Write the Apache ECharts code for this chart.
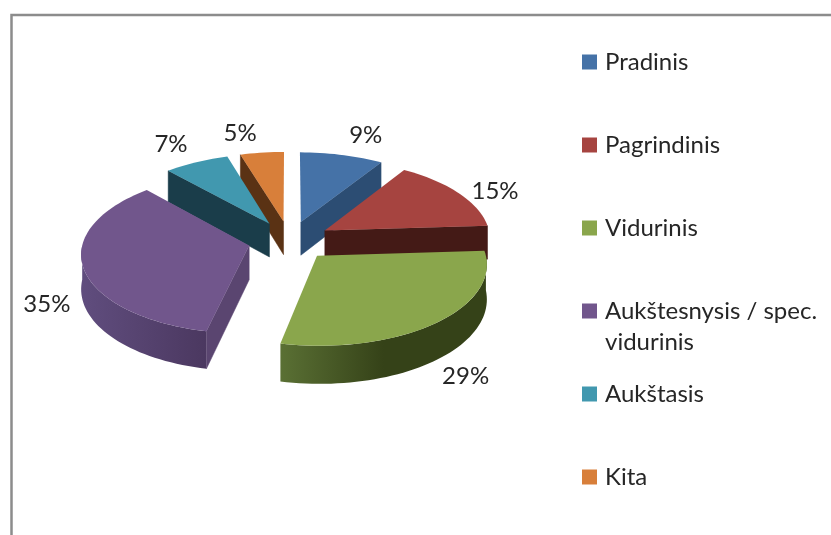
<!DOCTYPE html>
<html><head><meta charset="utf-8">
<style>html,body{margin:0;padding:0;background:#fff}#c{width:831px;height:535px}</style>
<script src="https://cdn.jsdelivr.net/npm/echarts@6/dist/echarts.min.js"></script>
</head><body><div id="c"></div>
<script>
const categories = ['Pradinis','Pagrindinis','Vidurinis','Aukštesnysis / spec. vidurinis','Aukštasis','Kita'];
const values = [9,15,29.4,34.9,7,4.7];
const topColors = ['#4572a7','#a64440','#8aa64c','#71568c','#4198af','#d87f3a'];
const cutColors = ['#2c4d73','#441a16','#37431a','#5a4570','#1a3d4a','#5a3214'];
const wallLeft  = ['#2c4d73','#441a16','#5a7034','#604d7e','#1a3d4a','#5a3214'];
const wallRight = ['#2c4d73','#441a16','#354218','#4b3860','#1a3d4a','#5a3214'];
const wallMid   = [1,1,0.5,1,1,1];

// 3D projection constants of the exploded pie
const CX=289.5, CY=240.5, R=166, A=79, P=0.09, EXPLODE=0.25, DEPTH=34;
const LABEL_FONT='24px Lato', INK='#262626';
const labelRadial=[1.16,1.17,1.2,1.2,1.2,1.2];
const labelNudge=[[18,-10],[15,4],[2,39],[-2,33],[-12,-7],[-18,-7]];
const total = values.reduce((a,b)=>a+b,0);
const rad = d=>d*Math.PI/180;

function project(X,Y,drop){
  const s=1/(1-P*Y);
  return [CX+X*R*s, CY+A*Y*s+(drop?DEPTH*s:0)];
}
function makeRender(idx){
  return function(params,api){
    const v=api.value(0);
    let before=0; for(let i=0;i<idx;i++) before+=values[i];
    const t0=before/total*360, t1=(before+v)/total*360, tm=(t0+t1)/2;
    const ex=EXPLODE*Math.sin(rad(tm)), ey=-EXPLODE*Math.cos(rad(tm));
    const rim=(t,drop)=>project(ex+Math.sin(rad(t)),ey-Math.cos(rad(t)),drop);
    const tip=project(ex,ey,false), tipD=project(ex,ey,true);
    const n=Math.max(4,Math.ceil((t1-t0)/2));
    const rimPts=[];
    for(let i=0;i<=n;i++) rimPts.push(rim(t0+(t1-t0)*i/n,false));
    const children=[];
    const a=Math.max(t0,90), b=Math.min(t1,270);
    if(b>a){
      const m=Math.ceil((b-a)/2), up=[], dn=[];
      for(let i=0;i<=m;i++){const t=a+(b-a)*i/m; up.push(rim(t,false)); dn.unshift(rim(t,true));}
      children.push({type:'polygon',shape:{points:up.concat(dn)},style:{
        fill:new echarts.graphic.LinearGradient(0,0,1,0,[
          {offset:0,color:wallLeft[idx]},
          {offset:wallMid[idx],color:wallRight[idx]},
          {offset:1,color:wallRight[idx]}])}});
    }
    const I=rim(tm,false);
    [t0,t1].forEach(t=>{
      const p=rim(t,false);
      let dx=p[0]-tip[0], dy=p[1]-tip[1];
      if(Math.abs(dx)<2) return;
      if(dx<0){dx=-dx;dy=-dy;}
      const cross=dx*(I[1]-tip[1])-dy*(I[0]-tip[0]);
      if(cross<0){
        children.push({type:'polygon',shape:{points:[tip,p,rim(t,true),tipD]},
          style:{fill:cutColors[idx],stroke:cutColors[idx],lineWidth:0.5}});
      }
    });
    children.push({type:'polygon',shape:{points:[tip].concat(rimPts)},style:{fill:topColors[idx]}});
    const f=labelRadial[idx];
    const l=project(ex+f*Math.sin(rad(tm)),ey-f*Math.cos(rad(tm)),false);
    children.push({type:'text',style:{text:Math.round(v)+'%',x:l[0]+labelNudge[idx][0],y:l[1]+labelNudge[idx][1],font:LABEL_FONT,fill:INK,align:'center',verticalAlign:'middle'}});
    return {type:'group',children};
  };
}
const paintOrder=[3,4,6,5,2,1];
const series=categories.map((name,i)=>({
  type:'custom',name,coordinateSystem:'none',z:paintOrder[i],silent:true,animation:false,
  itemStyle:{color:topColors[i]},data:[[values[i]]],renderItem:makeRender(i)
}));
const LEG_X=582, LEG_Y=62, LEG_STEP=83, LH=31;
const legends=categories.map((name,i)=>{
  const wrap=name.indexOf(' / ')>=0;
  return {
    show:true,left:LEG_X,top:LEG_Y+LEG_STEP*i-(wrap?LH*1.5:LH/2),padding:0,orient:'vertical',
    icon:'rect',itemWidth:15,itemHeight:15,selectedMode:false,
    data:[{name,itemStyle:{color:topColors[i]}}],
    formatter:n=>wrap?'\n'+n.replace(' / spec. ',' / spec.\n'):n,
    textStyle:{fontFamily:'Lato',fontSize:24,color:INK,lineHeight:LH,padding:[0,0,0,3]}
  };
});
const chart=echarts.init(document.getElementById('c'),null,{renderer:'canvas'});
chart.setOption({
  backgroundColor:'#fff',animation:false,
  legend:legends,series,
  graphic:[{type:'polyline',silent:true,shape:{points:[[11.5,535],[11.5,15],[831,15]]},style:{stroke:'#8c8c8c',lineWidth:2.5,fill:null}}]
});
</script></body></html>
